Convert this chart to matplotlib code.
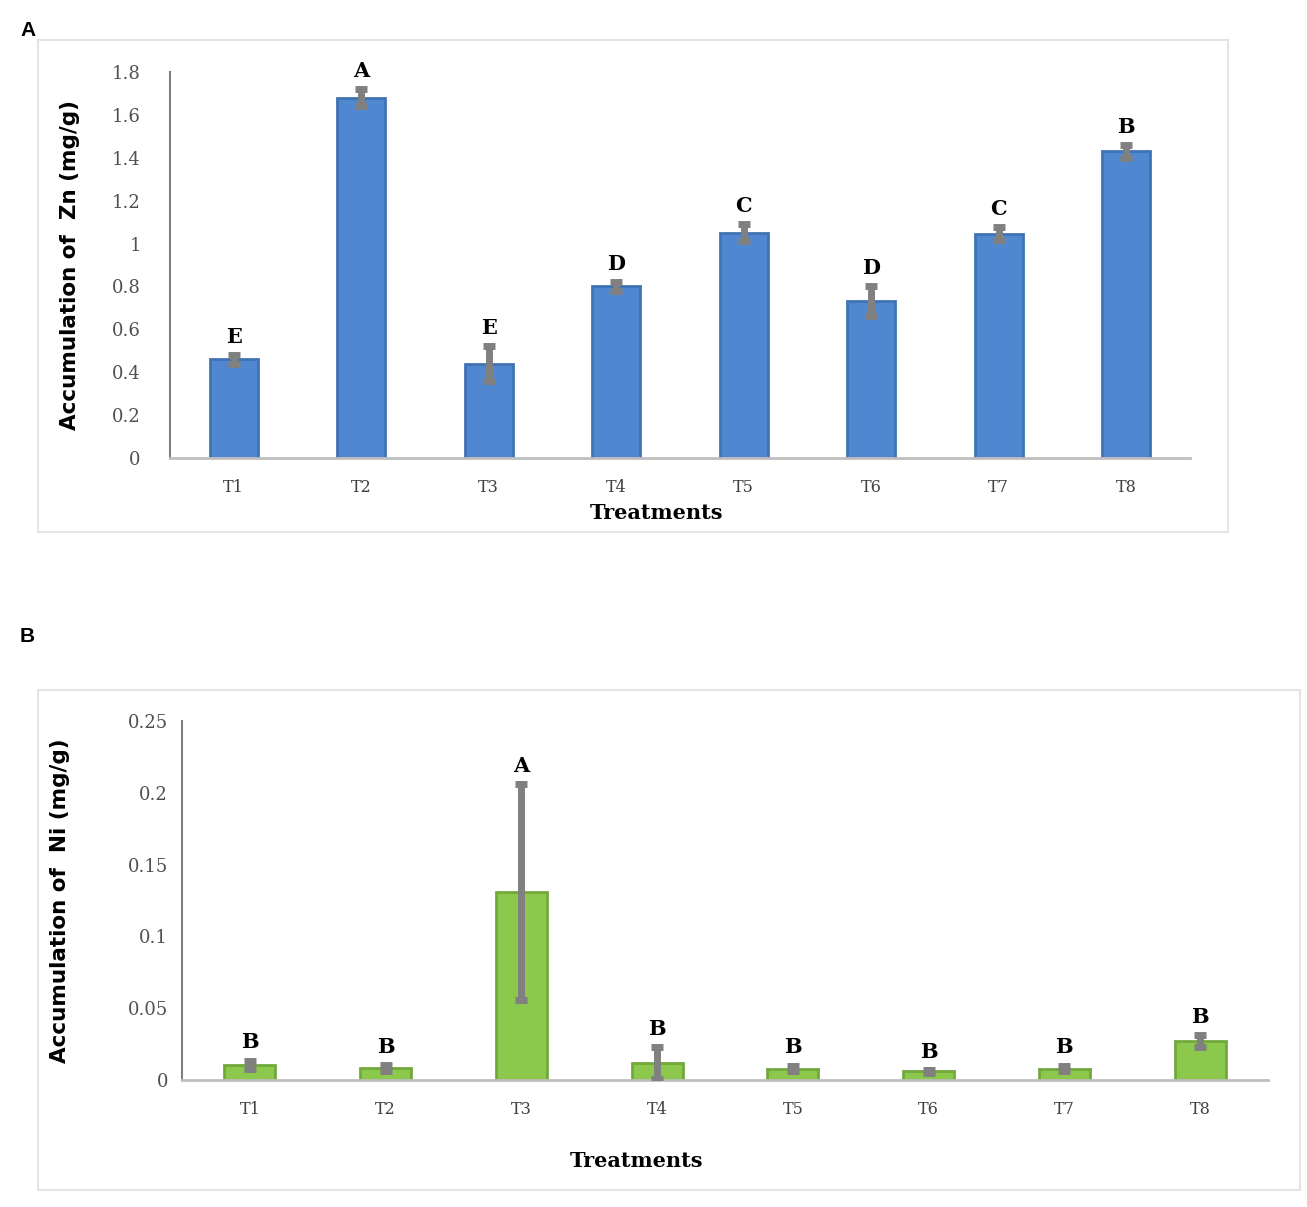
import numpy as np
import matplotlib.pyplot as plt
from matplotlib.patches import Rectangle

treatments = ["T1", "T2", "T3", "T4", "T5", "T6", "T7", "T8"]

zn_mean = [0.46, 1.68, 0.44, 0.80, 1.05, 0.73, 1.045, 1.43]
zn_err = [0.02, 0.04, 0.08, 0.02, 0.04, 0.07, 0.03, 0.03]
zn_letters = ["E", "A", "E", "D", "C", "D", "C", "B"]

ni_mean = [0.0105, 0.0085, 0.131, 0.012, 0.008, 0.006, 0.008, 0.027]
ni_err = [0.003, 0.002, 0.075, 0.011, 0.002, 0.001, 0.002, 0.004]
ni_letters = ["B", "B", "A", "B", "B", "B", "B", "B"]

W, H = 1307, 1207
fig = plt.figure(figsize=(W / 100, H / 100), dpi=100)

# panel frames
fig.patches.append(Rectangle((38 / W, 1 - 532 / H), (1228 - 38) / W, (532 - 40) / H,
                             transform=fig.transFigure, fill=False, edgecolor="#e4e4e4", lw=1.5))
fig.patches.append(Rectangle((38 / W, 1 - 1190 / H), (1300 - 38) / W, (1190 - 690) / H,
                             transform=fig.transFigure, fill=False, edgecolor="#e4e4e4", lw=1.5))

fig.text(20 / W, 1 - 30 / H, "A", fontsize=15, fontweight="bold", family="Liberation Sans", va="center")
fig.text(20 / W, 1 - 637 / H, "B", fontsize=15, fontweight="bold", family="Liberation Sans", va="center")


def panel(rect, mean, err, letters, color, edge, ylim, yticks, yticklabels, ylabel,
          ypad, ylab_x, xlab_pos):
    ax = fig.add_axes(rect)
    x = np.arange(len(treatments))
    ax.bar(x, mean, width=0.375, color=color, edgecolor=edge, linewidth=2, zorder=2)
    ax.errorbar(x, mean, yerr=err, fmt="none", ecolor="#808080", elinewidth=5,
                capsize=4, capthick=5, zorder=3)
    for xi, m, e, lab in zip(x, mean, err, letters):
        ax.annotate(lab, (xi, m + e), xytext=(0, 6), textcoords="offset points",
                    ha="center", va="bottom", fontsize=15, fontweight="heavy",
                    family="DejaVu Serif", color="black")
    ax.set_xlim(-0.5, len(treatments) - 0.5)
    ax.set_ylim(*ylim)
    ax.set_xticks(x)
    ax.set_xticklabels(treatments, family="DejaVu Serif", fontsize=11.5, color="#404040")
    ax.set_yticks(yticks)
    ax.set_yticklabels(yticklabels, family="DejaVu Serif", fontsize=13, color="#505050")
    ax.tick_params(axis="y", length=0, pad=ypad)
    ax.tick_params(axis="x", length=0, pad=15)
    for s in ["top", "right"]:
        ax.spines[s].set_visible(False)
    ax.spines["left"].set_color("#808080")
    ax.spines["left"].set_linewidth(1.5)
    ax.spines["bottom"].set_color("#bfbfbf")
    ax.spines["bottom"].set_linewidth(2)
    ax.set_ylabel(ylabel, fontsize=15.5, fontweight="bold")
    ax.yaxis.set_label_coords(ylab_x, 0.5)
    ax.set_xlabel("Treatments", fontsize=15, fontweight="heavy", family="DejaVu Serif")
    ax.xaxis.set_label_coords(*xlab_pos)
    return ax


ax_a = panel([170 / W, 1 - 458 / H, 1020 / W, 386 / H], zn_mean, zn_err, zn_letters,
             "#4f88d0", "#4173b3", (0, 1.8), np.arange(0, 1.81, 0.2),
             ["0", "0.2", "0.4", "0.6", "0.8", "1", "1.2", "1.4", "1.6", "1.8"],
             "Accumulation of  Zn (mg/g)", 21, (70 - 170) / 1020,
             ((657 - 170) / 1020, -(513 - 458) / 386))

ax_b = panel([182 / W, 1 - 1080 / H, 1086 / W, 359 / H], ni_mean, ni_err, ni_letters,
             "#8cc84b", "#72a83c", (0, 0.25), np.arange(0, 0.251, 0.05),
             ["0", "0.05", "0.1", "0.15", "0.2", "0.25"],
             "Accumulation of  Ni (mg/g)", 10, (60 - 182) / 1086,
             ((637 - 182) / 1086, -(1161 - 1080) / 359))

# label coords are the text anchor; center the labels vertically on those points
for ax in (ax_a, ax_b):
    ax.xaxis.label.set_va("center")
    ax.yaxis.label.set_va("center")

fig.savefig("out.png", dpi=100)
